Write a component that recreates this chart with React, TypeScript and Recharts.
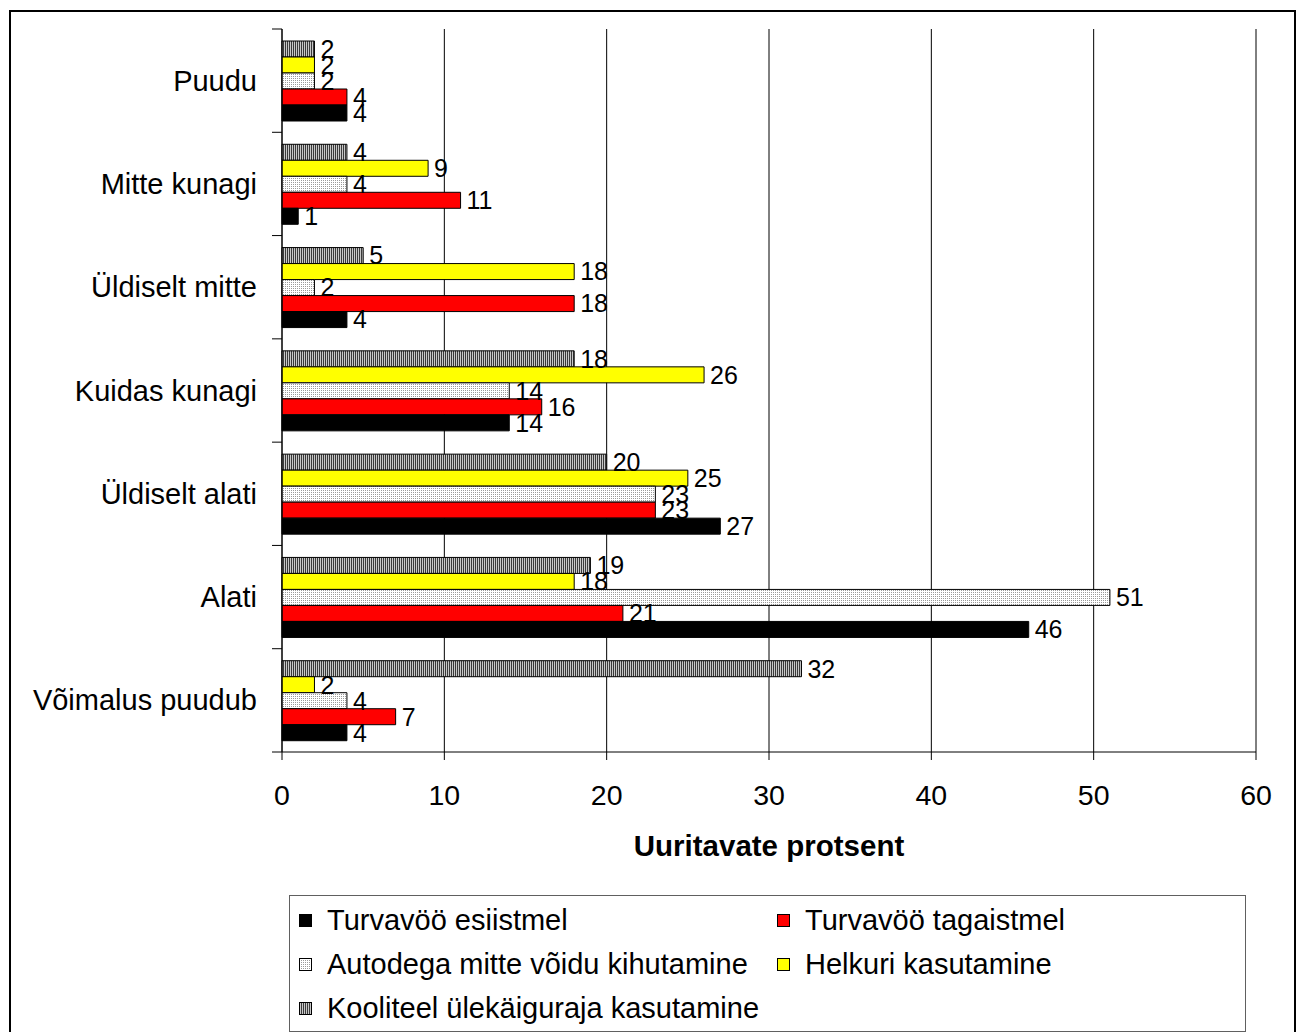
import React from 'react';
import { BarChart, Bar, XAxis, YAxis, CartesianGrid, LabelList } from 'recharts';

const categories = ['Puudu', 'Mitte kunagi', 'Üldiselt mitte', 'Kuidas kunagi', 'Üldiselt alati', 'Alati', 'Võimalus puudub'];
const esiistmel = [4, 1, 4, 14, 27, 46, 4];
const tagaistmel = [4, 11, 18, 16, 23, 21, 7];
const autodega = [2, 4, 2, 14, 23, 51, 4];
const helkuri = [2, 9, 18, 26, 25, 18, 2];
const kooliteel = [2, 4, 5, 18, 20, 19, 32];
const xTicks = [0, 10, 20, 30, 40, 50, 60];
const axisTitle = 'Uuritavate protsent';

const seriesNames = {
  esi: 'Turvavöö esiistmel',
  taga: 'Turvavöö tagaistmel',
  auto: 'Autodega mitte võidu kihutamine',
  helk: 'Helkuri kasutamine',
  kool: 'Kooliteel ülekäiguraja kasutamine',
};
const seriesFill = {
  esi: '#000000',
  taga: '#ff0000',
  auto: 'url(#dotsPat)',
  helk: '#ffff00',
  kool: 'url(#stripePat)',
};
// draw order (top to bottom inside each category)
const barOrder = ['kool', 'helk', 'auto', 'taga', 'esi'];
// legend order
const legendOrder = ['esi', 'taga', 'auto', 'helk', 'kool'];

const data = categories.map((c, i) => ({
  cat: c,
  esi: esiistmel[i],
  taga: tagaistmel[i],
  auto: autodega[i],
  helk: helkuri[i],
  kool: kooliteel[i],
}));

const FONT = '"Liberation Sans", Arial, sans-serif';
const W = 1283;
const H = 1019;
const MARGIN = { top: 17, right: 38, bottom: 175, left: 0 };
const PLOT_H = H - MARGIN.top - MARGIN.bottom - 104;
const BAND = PLOT_H / categories.length;

const CatTick = (props: any) => {
  const { x, y, payload, index } = props;
  const lx1 = x + 15;
  const lx2 = x + 25;
  return (
    <g>
      <text x={x} y={y} textAnchor="end" dominantBaseline="central" fontFamily={FONT} fontSize={29} fill="#000">
        {payload.value}
      </text>
      <line x1={lx1} x2={lx2} y1={y - BAND / 2} y2={y - BAND / 2} stroke="#000" strokeWidth={1} />
      {index === categories.length - 1 && (
        <line x1={lx1} x2={lx2} y1={y + BAND / 2} y2={y + BAND / 2} stroke="#000" strokeWidth={1} />
      )}
    </g>
  );
};

export default function App() {
  return (
    <div
      style={{
        position: 'fixed',
        left: 9,
        top: 10,
        width: W,
        height: 1040,
        border: '2px solid #000',
        background: '#fff',
        fontFamily: FONT,
      }}
    >
      <BarChart
        width={W}
        height={H}
        data={data}
        layout="vertical"
        margin={MARGIN}
        barSize={16}
        barGap={0}
      >
        <defs>
          <pattern id="stripePat" width="2" height="4" patternUnits="userSpaceOnUse">
            <rect width="2" height="4" fill="#c8c8c8" />
            <rect width="1" height="4" fill="#3a3a3a" />
          </pattern>
          <pattern id="dotsPat" width="2" height="2" patternUnits="userSpaceOnUse">
            <rect width="2" height="2" fill="#ffffff" />
            <rect x="0" y="0" width="1" height="1" fill="#9a9a9a" />
          </pattern>
        </defs>
        <CartesianGrid horizontal={false} vertical stroke="#000" strokeWidth={1} />
        <XAxis
          type="number"
          domain={[0, 60]}
          ticks={xTicks}
          interval={0}
          tickSize={8}
          tickMargin={25}
          height={104}
          axisLine={{ stroke: '#000' }}
          tickLine={{ stroke: '#000' }}
          tick={{ fontFamily: FONT, fontSize: 28.5, fill: '#000' }}
          label={{
            value: axisTitle,
            position: 'insideBottom',
            offset: 0,
            fontFamily: FONT,
            fontSize: 29.5,
            fontWeight: 'bold',
            fill: '#000',
          }}
        />
        <XAxis
          xAxisId="top"
          orientation="top"
          type="number"
          domain={[0, 60]}
          height={0}
          tick={false}
          tickLine={false}
          axisLine={{ stroke: '#808080' }}
        />
        <YAxis
          type="category"
          dataKey="cat"
          width={271}
          tickSize={10}
          tickMargin={15}
          tickLine={false}
          axisLine={{ stroke: '#000' }}
          tick={<CatTick />}
          interval={0}
        />
        {barOrder.map((k) => (
          <Bar
            key={k}
            dataKey={k}
            name={seriesNames[k]}
            fill={seriesFill[k]}
            stroke="#000"
            strokeWidth={1}
            isAnimationActive={false}
          >
            <LabelList
              dataKey={k}
              position="right"
              offset={6}
              fill="#000"
              fontFamily={FONT}
              fontSize={25}
            />
          </Bar>
        ))}
      </BarChart>
      <div
        style={{
          position: 'absolute',
          left: 278,
          top: 883,
          width: 957,
          height: 137,
          boxSizing: 'border-box',
          border: '1px solid #606060',
          paddingLeft: 9,
          paddingTop: 2,
          display: 'grid',
          gridTemplateColumns: '478px 1fr',
          gridAutoRows: '44px',
          fontSize: 29,
          color: '#000',
        }}
      >
        {legendOrder.map((k) => (
          <div key={k} style={{ display: 'flex', alignItems: 'center', whiteSpace: 'nowrap' }}>
            <svg width={13} height={13} style={{ marginRight: 15, flex: 'none' }}>
              <rect x={0.5} y={0.5} width={12} height={12} fill={seriesFill[k]} stroke="#000" strokeWidth={1} />
            </svg>
            <span>{seriesNames[k]}</span>
          </div>
        ))}
      </div>
    </div>
  );
}
